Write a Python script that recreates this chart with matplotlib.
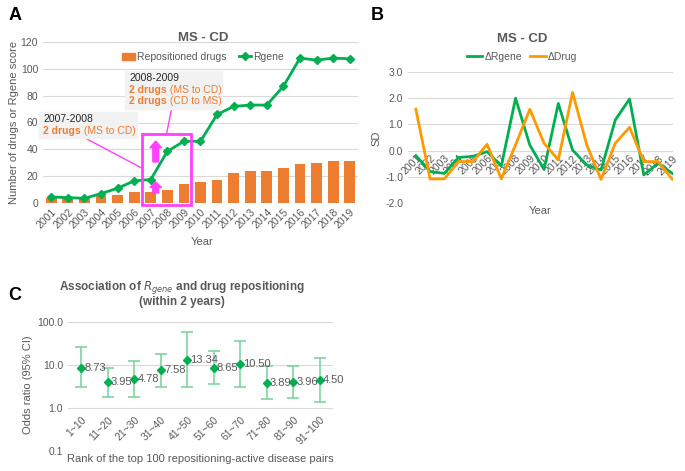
import numpy as np
import matplotlib
matplotlib.use("Agg")
import matplotlib.pyplot as plt
from matplotlib.patches import Rectangle, FancyArrow, Patch
from matplotlib.lines import Line2D
from matplotlib.text import Annotation

plt.rcParams['font.family'] = ['Liberation Sans', 'DejaVu Sans']

# ---- data ----
years = [str(y) for y in range(2001, 2020)]
repositioned_drugs = [4, 4, 4, 5, 6, 8, 8, 10, 14, 16, 17, 22, 24, 24, 26, 29, 30, 31, 31]
rgene_score = [4.5, 4, 3.5, 7, 11, 16.5, 17.5, 38.5, 46, 46, 66, 72, 73, 73, 87, 108, 106.5, 108, 107.5]

delta_rgene = [-0.19, -0.80, -0.87, -0.26, -0.22, -0.04, -0.59, 2.0, 0.21, -0.72,
               1.8, 0.02, -0.55, -0.74, 1.17, 1.97, -0.93, -0.48, -0.87]
delta_drug = [1.58, -1.08, -1.08, -0.42, -0.42, 0.24, -1.08, 0.22, 1.58, 0.28,
              -0.36, 2.22, 0.21, -1.1, 0.28, 0.89, -0.42, -0.42, -1.09]

rank_bins = ["1~10", "11~20", "21~30", "31~40", "41~50",
             "51~60", "61~70", "71~80", "81~90", "91~100"]
odds_ratio = [8.73, 3.95, 4.78, 7.58, 13.34, 8.65, 10.50, 3.89, 3.96, 4.50]
ci_low = [3.0, 1.8, 1.8, 3.1, 3.1, 3.6, 3.0, 1.6, 1.7, 1.4]
ci_high = [26, 8.6, 12.4, 18, 58, 21, 36, 9.5, 9.3, 14.5]

GRAY = '#595959'
GRID = '#D9D9D9'
ORANGE = '#ED7D31'
GREEN = '#00B050'
ORANGE2 = '#FF9900'
MAGENTA = '#FF40FF'

W, H = 685, 471
fig = plt.figure(figsize=(W / 100, H / 100), dpi=100)


def box(l, t, r, b):
    return [l / W, 1 - b / H, (r - l) / W, (b - t) / H]


def px(x, y):
    return x / W, 1 - y / H


def style_axes(ax):
    for s in ax.spines.values():
        s.set_visible(False)
    ax.tick_params(colors=GRAY, labelsize=7.5, length=0)
    ax.grid(axis='y', color=GRID, lw=0.8)
    ax.set_axisbelow(True)


# ---------------- Panel A ----------------
axA = fig.add_axes(box(43, 42, 358, 203))
style_axes(axA)
x = np.arange(len(years))
axA.bar(x, repositioned_drugs, width=0.65, color=ORANGE, zorder=2)
axA.plot(x, rgene_score, color=GREEN, lw=2, marker='D', ms=4.5, zorder=3)
axA.set_xlim(-0.5, len(years) - 0.5)
axA.set_ylim(0, 120)
axA.set_yticks(range(0, 121, 20))
axA.set_xticks(x)
axA.set_xticklabels(years, rotation=45, ha='right', rotation_mode='anchor', fontsize=7.5)
axA.tick_params(axis='x', pad=3)

# highlight rectangle, arrows and callout lines
axA.add_patch(Rectangle((5.45, -1.5), 3.0, 52.9, fill=False, ec=MAGENTA, lw=2, clip_on=False, zorder=5))
axA.add_patch(FancyArrow(6.3, 30.6, 0, 15.6, width=0.35, head_width=0.7, head_length=5,
                         length_includes_head=True, color=MAGENTA, zorder=6))
axA.add_patch(FancyArrow(6.3, 7.5, 0, 8.1, width=0.35, head_width=0.7, head_length=4,
                         length_includes_head=True, color=MAGENTA, zorder=6))
axA.plot([2.15, 5.45], [47.7, 26.1], color=MAGENTA, lw=1, clip_on=False, zorder=5)
axA.plot([7.25, 6.95], [70, 51.4], color=MAGENTA, lw=1, clip_on=False, zorder=5)

# annotation boxes (figure pixel coords)
fig.patches.append(Rectangle(px(39, 138), 98 / W, 26 / H, transform=fig.transFigure,
                             color='#F2F2F2', zorder=4))
fig.patches.append(Rectangle(px(125, 109), 97 / W, 38 / H, transform=fig.transFigure,
                             color='#F2F2F2', zorder=4))


def two_part(xp, yp, bold, rest):
    t = fig.text(*px(xp, yp), bold, color=ORANGE, fontsize=7.5, fontweight='bold',
                 va='center', ha='left', zorder=7)
    fig.add_artist(Annotation(rest, xy=(1, 0.5), xycoords=t, va='center', ha='left',
                              color=ORANGE, fontsize=7.5, zorder=7))


fig.text(*px(43, 119), "2007-2008", color='#262626', fontsize=7.5, va='center', zorder=7)
two_part(43, 131, "2 drugs", " (MS to CD)")
fig.text(*px(129, 78), "2008-2009", color='#262626', fontsize=7.5, va='center', zorder=7)
two_part(129, 90, "2 drugs", " (MS to CD)")
two_part(129, 101, "2 drugs", " (CD to MS)")

fig.text(*px(203, 38), "MS - CD", color=GRAY, fontsize=9.5, fontweight='bold', ha='center', va='center')
axA.legend(handles=[Patch(color=ORANGE, label='Repositioned drugs'),
                    Line2D([], [], color=GREEN, lw=2, marker='D', ms=4, label='Rgene')],
           loc='center', bbox_to_anchor=px(203, 57), bbox_transform=fig.transFigure,
           ncol=2, frameon=False, fontsize=7.5, handlelength=1.2, handletextpad=0.2,
           columnspacing=1.2, labelcolor=GRAY)
fig.text(*px(202, 242), "Year", color=GRAY, fontsize=8, ha='center', va='center')
fig.text(*px(14, 122), "Number of drugs or Rgene score", color=GRAY, fontsize=8,
         rotation=90, ha='center', va='center')

# ---------------- Panel B ----------------
axB = fig.add_axes(box(408, 72, 673, 203))
style_axes(axB)
axB.plot(x, delta_rgene, color=GREEN, lw=2, label='ΔRgene')
axB.plot(x, delta_drug, color=ORANGE2, lw=2, label='ΔDrug')
axB.set_xlim(-0.55, 18.05)
axB.set_ylim(-2, 3)
sd_ticks = np.arange(-2, 3.1, 1)
axB.set_yticks(sd_ticks)
axB.set_yticklabels([f"{v:.1f}" for v in sd_ticks])
axB.spines['bottom'].set_position(('data', 0))
axB.set_xticks(x)
axB.set_xticklabels(years, rotation=45, ha='right', rotation_mode='anchor', fontsize=7.5)
axB.tick_params(axis='x', pad=2)
fig.text(*px(522, 39), "MS - CD", color=GRAY, fontsize=9.5, fontweight='bold', ha='center', va='center')
axB.legend(loc='center', bbox_to_anchor=px(522, 57), bbox_transform=fig.transFigure,
           ncol=2, frameon=False, fontsize=7.5, handlelength=1.5, handletextpad=0.2,
           columnspacing=0.8, labelcolor=GRAY)
fig.text(*px(540, 211), "Year", color=GRAY, fontsize=8, ha='center', va='center')
fig.text(*px(376, 138), "SD", color=GRAY, fontsize=8, rotation=90, ha='center', va='center')

# ---------------- Panel C ----------------
axC = fig.add_axes(box(68, 322, 333, 451))
style_axes(axC)
axC.set_yscale('log')
xc = np.arange(len(rank_bins))
or_arr = np.array(odds_ratio)
yerr = [or_arr - np.array(ci_low), np.array(ci_high) - or_arr]
axC.errorbar(xc, or_arr, yerr=yerr, fmt='D', color=GREEN, ms=4.5, ecolor='#7FD4A0',
             elinewidth=1.2, capsize=4, capthick=1.2, zorder=3)
for xi, v in zip(xc, odds_ratio):
    axC.text(xi + 0.12, v, f"{v:.2f}", color=GRAY, fontsize=8, va='center', ha='left', zorder=4)
axC.set_xlim(-0.5, len(rank_bins) - 0.5)
axC.set_ylim(0.1, 100)
axC.set_yticks([0.1, 1, 10, 100])
axC.set_yticklabels(["0.1", "1.0", "10.0", "100.0"])
axC.minorticks_off()
axC.spines['bottom'].set_position(('data', 1))
axC.set_xticks(xc)
axC.set_xticklabels(rank_bins, rotation=45, ha='right', rotation_mode='anchor', fontsize=7.5)
axC.tick_params(axis='x', pad=5)
fig.text(*px(182, 288), r"Association of $\mathbf{\mathit{R}_{\mathit{gene}}}$ and drug repositioning",
         color=GRAY, fontsize=8.5, fontweight='bold', ha='center', va='center')
fig.text(*px(182, 302), "(within 2 years)", color=GRAY, fontsize=8.5, fontweight='bold',
         ha='center', va='center')
fig.text(*px(200, 459), "Rank of the top 100 repositioning-active disease pairs", color=GRAY,
         fontsize=8, ha='center', va='center')
fig.text(*px(28, 385), "Odds ratio (95% CI)", color=GRAY, fontsize=8, rotation=90,
         ha='center', va='center')

# panel letters
for lab, (lx, ly) in zip("ABC", [(15, 15), (377, 15), (15, 296)]):
    fig.text(*px(lx, ly), lab, fontsize=13, fontweight='bold', ha='center', va='center')

fig.savefig("out.png", dpi=100)
